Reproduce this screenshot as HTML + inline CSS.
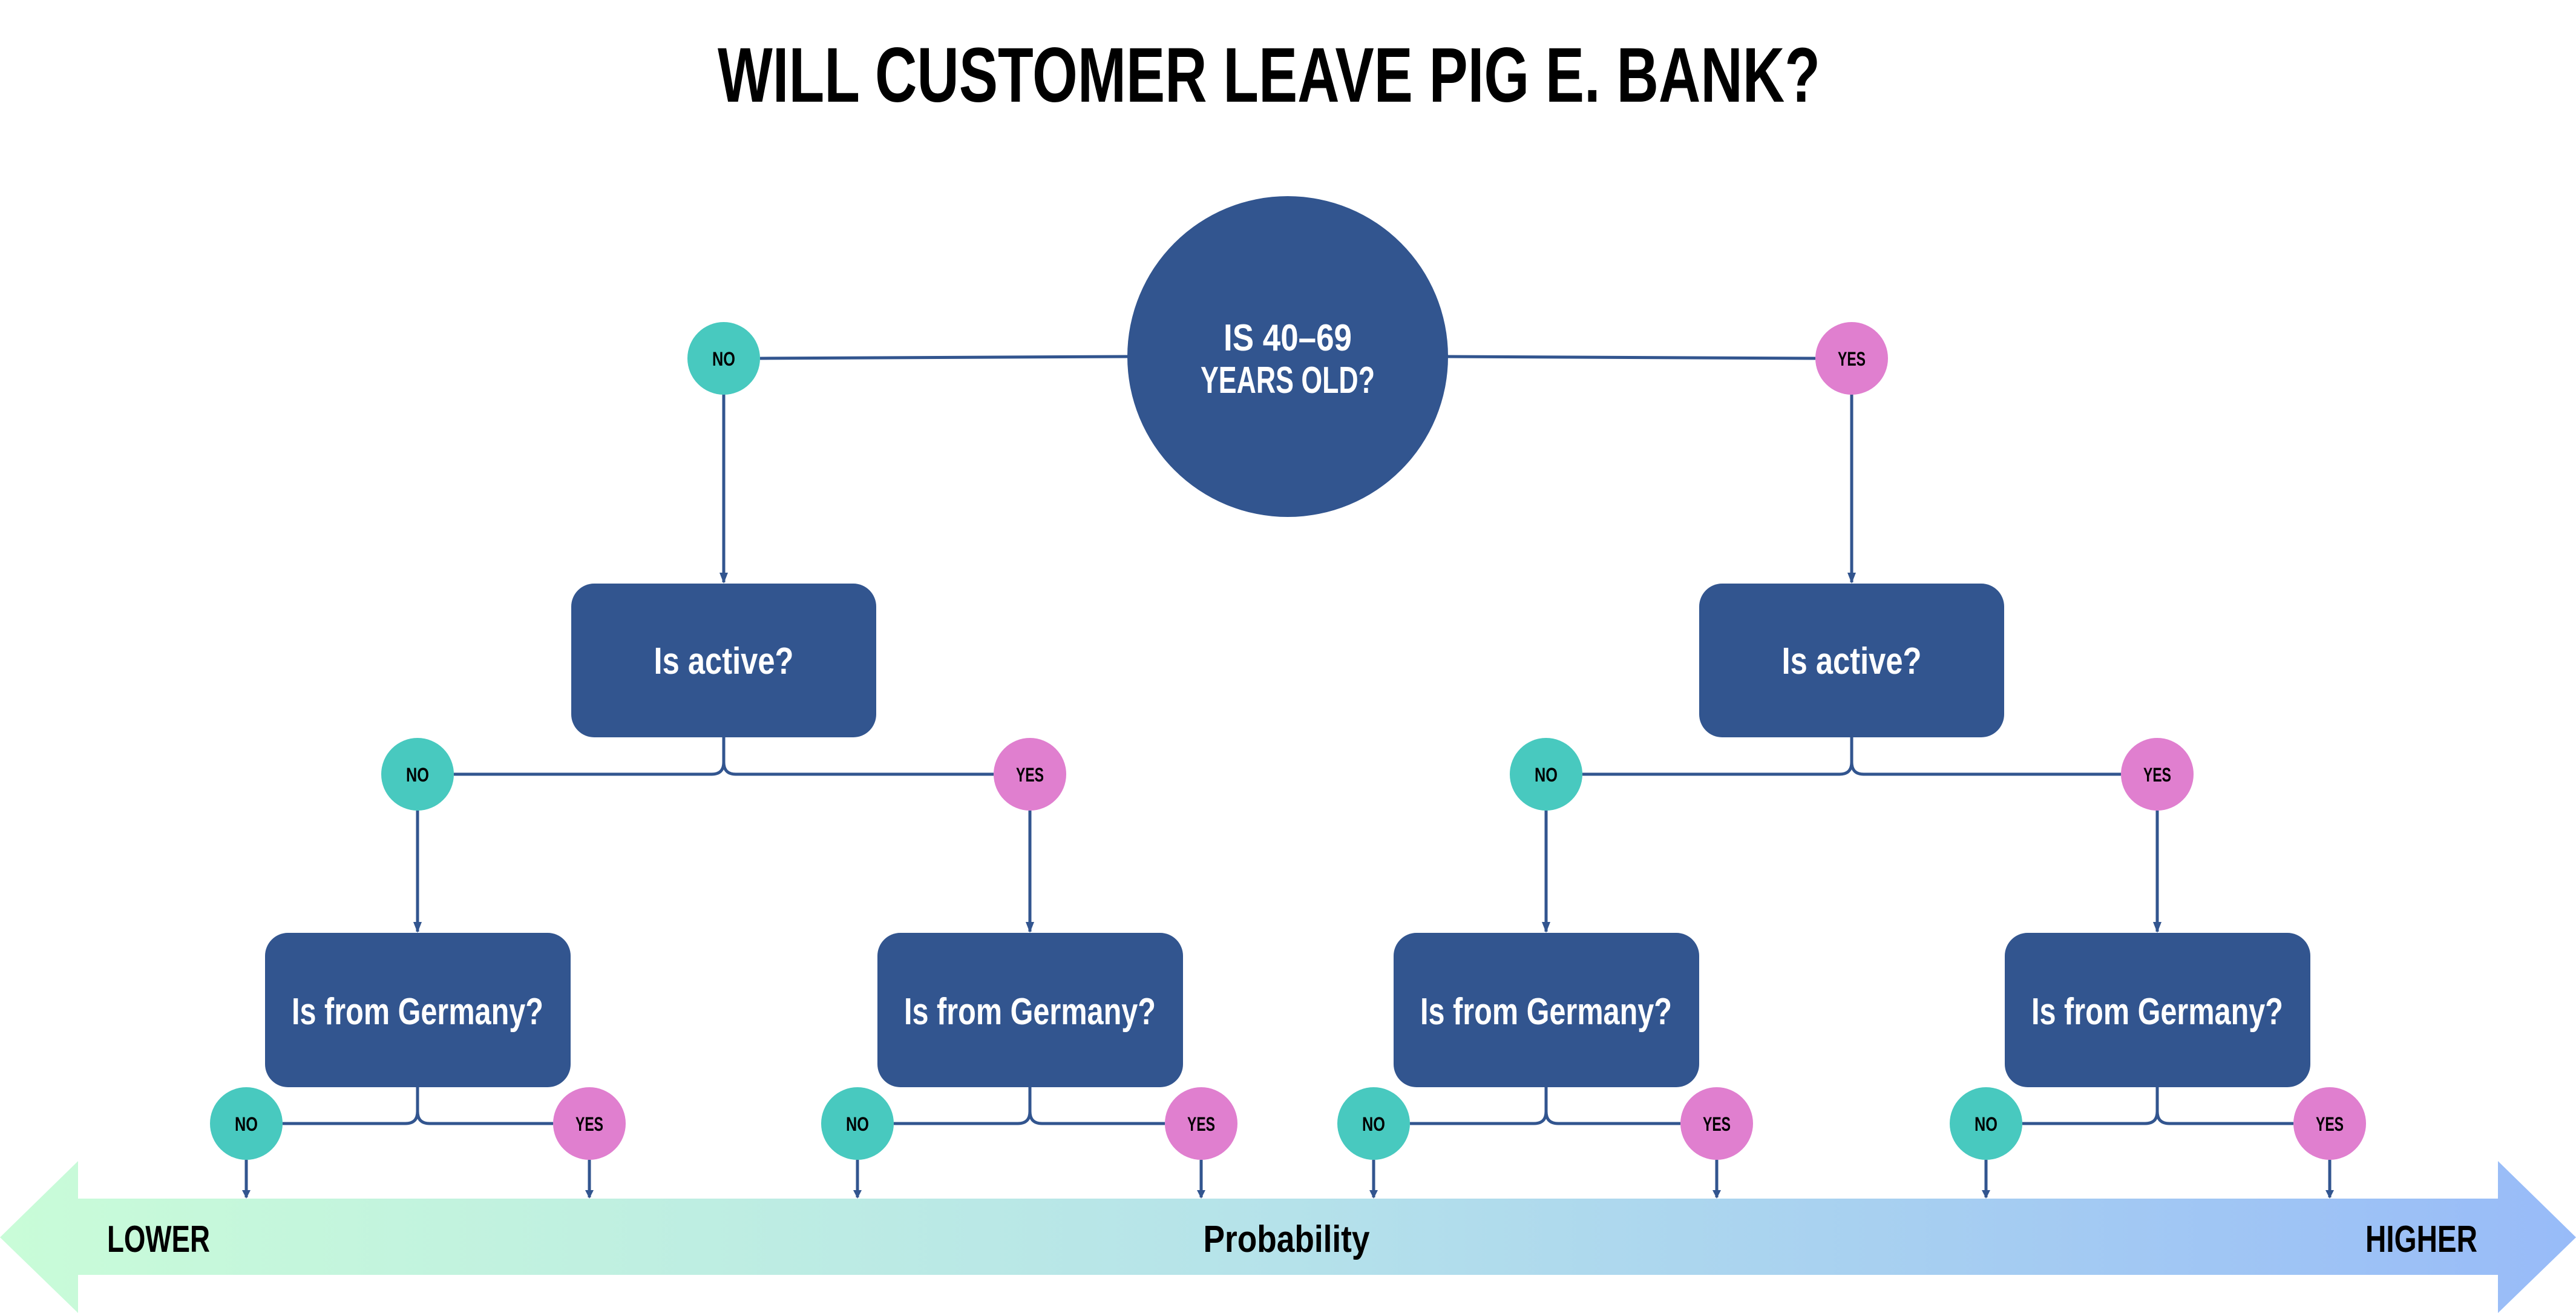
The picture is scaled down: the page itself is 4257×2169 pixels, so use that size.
<!DOCTYPE html>
<html><head><meta charset="utf-8"><style>html,body{margin:0;padding:0;background:#fff}svg{display:block}</style></head><body>
<svg width="4257" height="2169" viewBox="0 0 4257 2169" xmlns="http://www.w3.org/2000/svg" font-family="'Liberation Sans Narrow','Liberation Sans',sans-serif" font-weight="bold">
<defs>
<linearGradient id="g" x1="0" x2="1" y1="0" y2="0"><stop offset="0" stop-color="#c9fcd8"/><stop offset="0.5" stop-color="#b5e2ea"/><stop offset="1" stop-color="#98bbf8"/></linearGradient>
<marker id="ar" markerWidth="6" markerHeight="8" refX="3" refY="8" orient="auto" markerUnits="strokeWidth"><path d="M0,0 L6,0 L3,8Z" fill="#32558f" transform="rotate(-90 3 4) translate(0,0)"/></marker>
</defs>
<text x="2097" y="168" font-size="128" text-anchor="middle" textLength="1822" lengthAdjust="spacingAndGlyphs" fill="#000">WILL CUSTOMER LEAVE PIG E. BANK?</text>
<!-- arrow bar -->
<path d="M0,2044 L129,1918 L129,1980 L4128,1980 L4128,1918 L4257,2044 L4128,2169 L4128,2106 L129,2106 L129,2169 Z" fill="url(#g)"/>
<text x="177" y="2068" font-size="62" textLength="170" lengthAdjust="spacingAndGlyphs">LOWER</text>
<text x="2126" y="2068" font-size="62" text-anchor="middle" textLength="275" lengthAdjust="spacingAndGlyphs">Probability</text>
<text x="4094" y="2068" font-size="62" text-anchor="end" textLength="185" lengthAdjust="spacingAndGlyphs">HIGHER</text>
<g stroke="#32558f" stroke-width="5" fill="none">
<path d="M1256,592 L1864,589"/><path d="M2392,589 L3000,592"/>
<path d="M1196,651 V962"/><path d="M3060,651 V962"/>
<path d="M1196,1218 V1259 Q1196,1279 1176,1279 H750 M1196,1259 Q1196,1279 1216,1279 H1642"/>
<path d="M3060,1218 V1259 Q3060,1279 3040,1279 H2615 M3060,1259 Q3060,1279 3080,1279 H3505"/>
<path d="M690,1339 V1539 M1702,1339 V1539 M2555,1339 V1539 M3565,1339 V1539"/>
<path d="M690,1796 V1836 Q690,1856 670,1856 H467 M690,1836 Q690,1856 710,1856 H914"/>
<path d="M1702,1796 V1836 Q1702,1856 1682,1856 H1477 M1702,1836 Q1702,1856 1722,1856 H1925"/>
<path d="M2555,1796 V1836 Q2555,1856 2535,1856 H2330 M2555,1836 Q2555,1856 2575,1856 H2777"/>
<path d="M3565,1796 V1836 Q3565,1856 3545,1856 H3342 M3565,1836 Q3565,1856 3585,1856 H3790"/>
<path d="M407,1916 V1978 M974,1916 V1978 M1417,1916 V1978 M1985,1916 V1978 M2270,1916 V1978 M2837,1916 V1978 M3282,1916 V1978 M3850,1916 V1978"/>
</g>
<g fill="#32558f">
<path d="M1189,946 h14 l-7,18z M3053,946 h14 l-7,18z"/>
<path d="M683,1523 h14 l-7,18z M1695,1523 h14 l-7,18z M2548,1523 h14 l-7,18z M3558,1523 h14 l-7,18z"/>
<path d="M400,1966 h14 l-7,14z M967,1966 h14 l-7,14z M1410,1966 h14 l-7,14z M1978,1966 h14 l-7,14z M2263,1966 h14 l-7,14z M2830,1966 h14 l-7,14z M3275,1966 h14 l-7,14z M3843,1966 h14 l-7,14z"/>
<circle cx="2128" cy="589" r="265"/>
<rect x="944" y="964" width="504" height="254" rx="38"/>
<rect x="2808" y="964" width="504" height="254" rx="38"/>
<rect x="438" y="1541" width="505" height="255" rx="38"/>
<rect x="1450" y="1541" width="505" height="255" rx="38"/>
<rect x="2303" y="1541" width="505" height="255" rx="38"/>
<rect x="3313" y="1541" width="505" height="255" rx="38"/>
</g>
<g fill="#fff" text-anchor="middle" font-size="62">
<text x="2128" y="579" textLength="212" lengthAdjust="spacingAndGlyphs">IS  40–69</text>
<text x="2128" y="649" textLength="288" lengthAdjust="spacingAndGlyphs">YEARS OLD?</text>
<text x="1196" y="1113" textLength="231" lengthAdjust="spacingAndGlyphs">Is active?</text>
<text x="3060" y="1113" textLength="231" lengthAdjust="spacingAndGlyphs">Is active?</text>
<text x="690" y="1692" textLength="416" lengthAdjust="spacingAndGlyphs">Is from Germany?</text>
<text x="1702" y="1692" textLength="416" lengthAdjust="spacingAndGlyphs">Is from Germany?</text>
<text x="2555" y="1692" textLength="416" lengthAdjust="spacingAndGlyphs">Is from Germany?</text>
<text x="3565" y="1692" textLength="416" lengthAdjust="spacingAndGlyphs">Is from Germany?</text>
</g>
<g fill="#48c9bf"><circle cx="1196" cy="592" r="60"/><circle cx="690" cy="1279" r="60"/><circle cx="2555" cy="1279" r="60"/>
<circle cx="407" cy="1856" r="60"/><circle cx="1417" cy="1856" r="60"/><circle cx="2270" cy="1856" r="60"/><circle cx="3282" cy="1856" r="60"/></g>
<g fill="#e07fcf"><circle cx="3060" cy="592" r="60"/><circle cx="1702" cy="1279" r="60"/><circle cx="3565" cy="1279" r="60"/>
<circle cx="974" cy="1856" r="60"/><circle cx="1985" cy="1856" r="60"/><circle cx="2837" cy="1856" r="60"/><circle cx="3850" cy="1856" r="60"/></g>
<g fill="#000" text-anchor="middle" font-size="32">
<text x="1196" y="604" textLength="38" lengthAdjust="spacingAndGlyphs">NO</text>
<text x="3060" y="604" textLength="46" lengthAdjust="spacingAndGlyphs">YES</text>
<text x="690" y="1291" textLength="38" lengthAdjust="spacingAndGlyphs">NO</text>
<text x="1702" y="1291" textLength="46" lengthAdjust="spacingAndGlyphs">YES</text>
<text x="2555" y="1291" textLength="38" lengthAdjust="spacingAndGlyphs">NO</text>
<text x="3565" y="1291" textLength="46" lengthAdjust="spacingAndGlyphs">YES</text>
<text x="407" y="1868" textLength="38" lengthAdjust="spacingAndGlyphs">NO</text>
<text x="974" y="1868" textLength="46" lengthAdjust="spacingAndGlyphs">YES</text>
<text x="1417" y="1868" textLength="38" lengthAdjust="spacingAndGlyphs">NO</text>
<text x="1985" y="1868" textLength="46" lengthAdjust="spacingAndGlyphs">YES</text>
<text x="2270" y="1868" textLength="38" lengthAdjust="spacingAndGlyphs">NO</text>
<text x="2837" y="1868" textLength="46" lengthAdjust="spacingAndGlyphs">YES</text>
<text x="3282" y="1868" textLength="38" lengthAdjust="spacingAndGlyphs">NO</text>
<text x="3850" y="1868" textLength="46" lengthAdjust="spacingAndGlyphs">YES</text>
</g>
</svg>
</body></html>
